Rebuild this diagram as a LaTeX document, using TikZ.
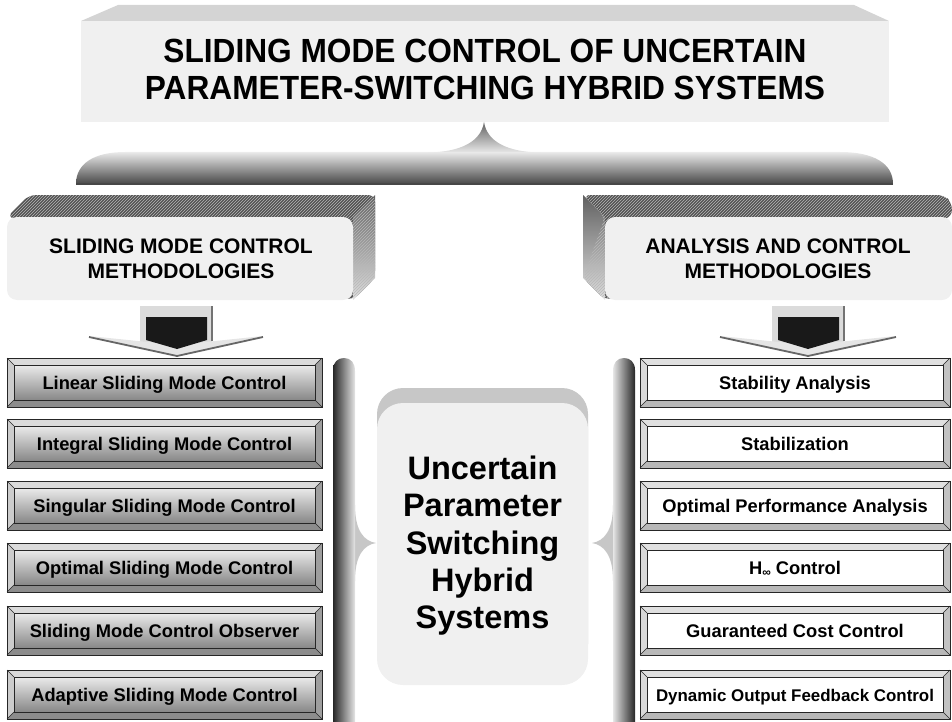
\documentclass[tikz,border=0pt]{standalone}
\usepackage{fontspec}
\setmainfont{Liberation Sans}
\usetikzlibrary{patterns}
\tikzset{
  ttl/.style={font=\bfseries\fontsize{33.5}{37}\selectfont, anchor=base, inner sep=0pt},
  sect/.style={font=\bfseries\fontsize{21}{25}\selectfont, anchor=base, inner sep=0pt},
  lbl/.style={font=\bfseries\fontsize{18.3}{22}\selectfont, anchor=base, inner sep=0pt},
  ctr/.style={font=\bfseries\fontsize{32.5}{37}\selectfont, anchor=base, inner sep=0pt},
  edge/.style={draw=black!85, line width=0.8pt},
  thinedge/.style={draw=black!85, line width=0.6pt},
  Lbt/.style={fill=black!14}, Lbl/.style={fill=black!20}, Lbr/.style={fill=black!38}, Lbb/.style={fill=black!45},
  Lin/.style={top color=black!8, bottom color=black!47},
  Rbt/.style={fill=black!12}, Rbl/.style={fill=black!15}, Rbr/.style={fill=black!24}, Rbb/.style={fill=black!28},
  Rin/.style={top color=white, bottom color=white},
  hatchtop/.style={fill=black!68},
  hatchlines/.style={pattern=north east lines, pattern color=white!72!black},
  darkshaft/.style={fill=black!90},
}
% #1 name, #2 x1, #3 y1, #4 x2, #5 y2, #6 variant, #7 text
\newcommand{\bevbox}[7]{%
  \fill[#6bt] (#2,#3) -- (#4,#3) -- (#4-7,#3+7) -- (#2+7,#3+7) -- cycle;
  \fill[#6bl] (#2,#3) -- (#2+7,#3+7) -- (#2+7,#5-7) -- (#2,#5) -- cycle;
  \fill[#6br] (#4,#3) -- (#4-7,#3+7) -- (#4-7,#5-7) -- (#4,#5) -- cycle;
  \fill[#6bb] (#2,#5) -- (#2+7,#5-7) -- (#4-7,#5-7) -- (#4,#5) -- cycle;
  \shade[#6in] (#2+7,#3+7) rectangle (#4-7,#5-7);
  \draw[edge] (#2,#3) rectangle (#4,#5);
  \draw[thinedge] (#2+7,#3+7) rectangle (#4-7,#5-7);
  \draw[thinedge] (#2,#3) -- (#2+7,#3+7) (#4,#3) -- (#4-7,#3+7) (#2,#5) -- (#2+7,#5-7) (#4,#5) -- (#4-7,#5-7);
  \node[lbl] (#1) at ({(#2+#4)/2},{(#3+#5)/2+6.6}) {#7};
}
\begin{document}
\begin{tikzpicture}[x=1pt,y=-1pt]
\useasboundingbox (0,0) rectangle (952,722);

% ---------- title box ----------
\fill[black!17] (81,21) -- (118,5) -- (854,5) -- (889,21) -- cycle;
\fill[black!6] (81,21) rectangle (889,122);
\node[ttl] (t1) at (485,63) {\scalebox{0.945}[1]{SLIDING MODE CONTROL OF UNCERTAIN}};
\node[ttl] (t2) at (485,100) {\scalebox{0.945}[1]{PARAMETER-SWITCHING HYBRID SYSTEMS}};

% ---------- top brace ----------
\shade[top color=black!8, bottom color=black!72]
  (76,184) .. controls (76,163) and (95,152) .. (125,152) -- (840,152)
  .. controls (873,152) and (893,163) .. (893,184) -- cycle;
\shade[top color=black!62, bottom color=black!9]
  (428,152.5) .. controls (460,152) and (481,142) .. (484,122)
  .. controls (487,142) and (508,152) .. (540,152.5) -- cycle;
\draw[black!72, line width=1.5pt] (76,184) -- (893,184);

% ---------- left section box ----------
\fill[hatchtop, rounded corners=7] (7,217) -- (29,195) -- (375,195) -- (375,278) -- (353,300) -- cycle;
\shade[top color=black!62, bottom color=black!12] (353,217) -- (375,195) -- (375,278) -- (353,300) -- cycle;
\fill[hatchlines, rounded corners=7] (7,217) -- (29,195) -- (375,195) -- (375,278) -- (353,300) -- cycle;
\fill[black!6, rounded corners=10] (7,217) rectangle (353,300);
\node[sect] (s1a) at (181,253) {SLIDING MODE CONTROL};
\node[sect] (s1b) at (181,278) {METHODOLOGIES};

% ---------- right section box ----------
\fill[hatchtop, rounded corners=7] (605,217) -- (583,195) -- (944,195) -- (952,203) -- (952,217) -- (605,300) -- (583,278) -- cycle;
\shade[top color=black!62, bottom color=black!12] (605,217) -- (583,195) -- (583,278) -- (605,300) -- cycle;
\fill[hatchlines, rounded corners=7] (605,217) -- (583,195) -- (944,195) -- (952,203) -- (952,217) -- (605,300) -- (583,278) -- cycle;
\fill[black!6, rounded corners=10] (605,217) rectangle (952,300);
\node[sect] (s2a) at (778,253) {ANALYSIS AND CONTROL};
\node[sect] (s2b) at (778,278) {METHODOLOGIES};

% ---------- left arrow ----------
\fill[black!14] (140,306) rectangle (212,344);
\draw[black!55, line width=1.6pt] (212,306) -- (212,341);
\fill[black!10] (89,336) -- (177,345) -- (263,336) -- (177,356) -- cycle;
\draw[black!60, line width=1.8pt] (89,337) -- (177,356) -- (263,337);
\fill[darkshaft] (146,317) -- (207,317) -- (207,340) -- (177,349) -- (146,340) -- cycle;

% ---------- right arrow ----------
\fill[black!14] (772,306) rectangle (844,344);
\draw[black!55, line width=1.6pt] (844,306) -- (844,341);
\fill[black!10] (720,336) -- (808,345) -- (896,336) -- (808,356) -- cycle;
\draw[black!60, line width=1.8pt] (720,337) -- (808,356) -- (896,337);
\fill[darkshaft] (778,317) -- (839,317) -- (839,340) -- (808,349) -- (778,340) -- cycle;

% ---------- left list ----------
\bevbox{l1}{7}{358}{322}{407}{L}{Linear Sliding Mode Control}
\bevbox{l2}{7}{419}{322}{468}{L}{Integral Sliding Mode Control}
\bevbox{l3}{7}{481}{322}{530}{L}{Singular Sliding Mode Control}
\bevbox{l4}{7}{543}{322}{592}{L}{Optimal Sliding Mode Control}
\bevbox{l5}{7}{606}{322}{655}{L}{Sliding Mode Control Observer}
\bevbox{l6}{7}{670}{322}{719}{L}{Adaptive Sliding Mode Control}

% ---------- right list ----------
\bevbox{r1}{640}{358}{950}{407}{R}{Stability Analysis}
\bevbox{r2}{640}{419}{950}{468}{R}{Stabilization}
\bevbox{r3}{640}{481}{950}{530}{R}{Optimal Performance Analysis}
\bevbox{r4}{640}{543}{950}{592}{R}{H\raisebox{-2.5pt}{\fontsize{12}{12}\selectfont ∞} Control}
\bevbox{r5}{640}{606}{950}{655}{R}{Guaranteed Cost Control}
\bevbox{r6}{640}{670}{950}{719}{R}{\fontsize{16.9}{20}\selectfont Dynamic Output Feedback Control}

% ---------- left brace ----------
\fill[black!22] (355,505) .. controls (355,531) and (364,541) .. (376,543)
  .. controls (364,545) and (355,555) .. (355,581) -- cycle;
\shade[left color=black!85, right color=black!10]
  (333,722) -- (333,370) .. controls (333,362) and (338,358) .. (344,358)
  .. controls (351,358) and (355,363) .. (355,371) -- (355,722) -- cycle;

% ---------- right brace ----------
\fill[black!22] (613,505) .. controls (613,531) and (604,541) .. (592,543)
  .. controls (604,545) and (613,555) .. (613,581) -- cycle;
\shade[left color=black!10, right color=black!85]
  (635,722) -- (635,370) .. controls (635,362) and (630,358) .. (624,358)
  .. controls (617,358) and (613,363) .. (613,371) -- (613,722) -- cycle;

% ---------- centre box ----------
\fill[black!22, rounded corners=26] (377,388) rectangle (588,670);
\fill[black!6, rounded corners=26] (377,403) rectangle (588,685);
\node[ctr] (c1) at (482.5,479) {Uncertain};
\node[ctr] (c2) at (482.5,516) {Parameter};
\node[ctr] (c3) at (482.5,554) {Switching};
\node[ctr] (c4) at (482.5,591) {Hybrid};
\node[ctr] (c5) at (482.5,628) {Systems};
\end{tikzpicture}
\end{document}
